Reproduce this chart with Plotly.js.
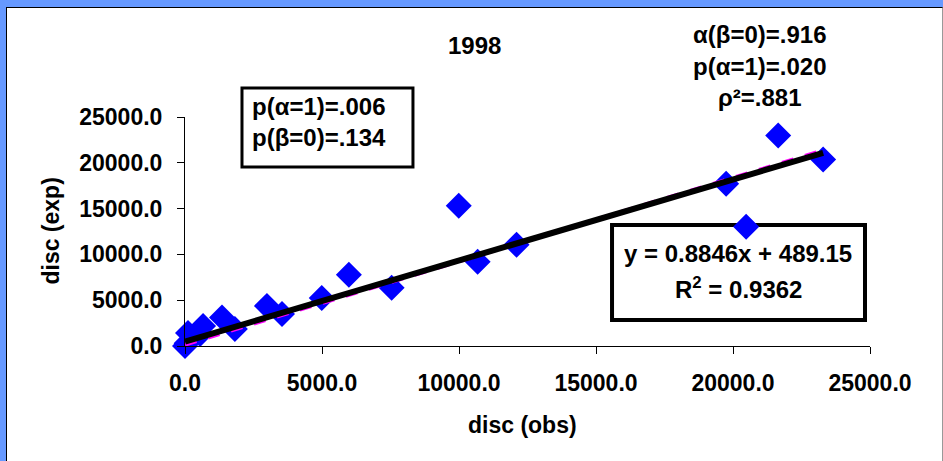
<!DOCTYPE html>
<html><head><meta charset="utf-8">
<script src="https://cdn.plot.ly/plotly-3.0.1.min.js"></script>
<style>
html,body{margin:0;padding:0;background:#6699FF;width:943px;height:461px;overflow:hidden;}
#chart{position:absolute;left:6px;top:7px;width:935px;height:453px;border-left:1px solid #000;border-top:1px solid #000;border-right:1px solid #999;background:#fff;}
</style></head><body><div id="chart"></div>
<script>
// observed vs expected discharge, 1998
const discObs = [0, 60, 110, 550, 660, 1350, 1820, 2990, 3540, 4990, 5980, 7540, 9990, 10680, 12100, 19750, 20480, 21650, 23290];
const discExp = [0, 300, 1420, 1310, 2180, 3100, 1860, 4380, 3500, 5250, 7770, 6350, 15320, 9190, 11050, 17720, 13020, 22980, 20350];
const fitSlope = 0.8846, fitIntercept = 489.15;
const altSlope = 0.91, altIntercept = 150;
const xTicks = [0, 5000, 10000, 15000, 20000, 25000];
const yTicks = [0, 5000, 10000, 15000, 20000, 25000];

const xmin = Math.min(...discObs), xmax = Math.max(...discObs);
const lineX = [xmin, xmax];
const fitY = lineX.map(x => fitSlope * x + fitIntercept);
const altY = lineX.map(x => altSlope * x + altIntercept);

const F = 'Liberation Sans, Arial, sans-serif';
const bold = (size) => ({family: F, size: size, color: '#000', weight: 'bold'});
const note = (text, x, y, size, xanchor) => ({text: text, xref: 'paper', yref: 'paper', x: x, y: y,
  xanchor: xanchor || 'center', yanchor: 'middle', showarrow: false, font: bold(size)});

const traces = [
  {x: discObs, y: discExp, type: 'scatter', mode: 'markers', cliponaxis: false,
   marker: {symbol: 'diamond', size: 20, color: '#0000FF', line: {width: 0}}, hoverinfo: 'x+y'},
  {x: lineX, y: altY, type: 'scatter', mode: 'lines', cliponaxis: false,
   line: {color: '#FF00FF', width: 4, dash: 'dash'}},
  {x: lineX, y: fitY, type: 'scatter', mode: 'lines', cliponaxis: false,
   line: {color: '#000000', width: 6}}
];

const layout = {
  width: 935, height: 453,
  margin: {l: 178, r: 72, t: 109, b: 115},
  paper_bgcolor: '#FFFFFF', plot_bgcolor: '#FFFFFF',
  showlegend: false,
  font: bold(23),
  xaxis: {range: [0, 25000], tickvals: xTicks, tickformat: '.1f', showgrid: false, zeroline: false,
          showline: true, linecolor: '#000', linewidth: 1, ticks: 'outside', ticklen: 7, tickcolor: '#000',
          ticklabelstandoff: 9, tickfont: bold(23)},
  yaxis: {range: [0, 25000], tickvals: yTicks, tickformat: '.1f', showgrid: false, zeroline: false,
          showline: true, linecolor: '#000', linewidth: 1, ticks: 'outside', ticklen: 7, tickcolor: '#000',
          ticklabelstandoff: 10, tickfont: bold(23)},
  shapes: [
    {type: 'rect', xref: 'paper', yref: 'paper', x0: 0.0832, x1: 0.3328, y0: 0.7817, y1: 1.1266,
     line: {color: '#000', width: 3}, fillcolor: '#FFFFFF', layer: 'below'},
    {type: 'rect', xref: 'paper', yref: 'paper', x0: 0.6234, x1: 0.9927, y0: 0.1135, y1: 0.5284,
     line: {color: '#000', width: 4}, fillcolor: '#FFFFFF', layer: 'below'}
  ],
  annotations: [
    note('1998', 0.4219, 1.3144, 24),
    note('α(β=0)=.916', 0.8394, 1.3624, 24),
    note('p(α=1)=.020', 0.8394, 1.2227, 24),
    note('ρ²=.881', 0.8394, 1.083, 24),
    note('p(α=1)=.006', 0.0949, 1.0437, 24, 'left'),
    note('p(β=0)=.134', 0.0949, 0.9083, 24, 'left'),
    note('y = 0.8846x + 489.15', 0.808, 0.4061, 24),
    note('R<sup>2</sup> = 0.9362', 0.808, 0.2533, 24),
    note('disc (obs)', 0.4934, -0.345, 23),
    Object.assign(note('disc (exp)', -0.197, 0.5, 23), {textangle: -90})
  ]
};

Plotly.newPlot('chart', traces, layout, {displayModeBar: false, staticPlot: true});
</script>
</body></html>
